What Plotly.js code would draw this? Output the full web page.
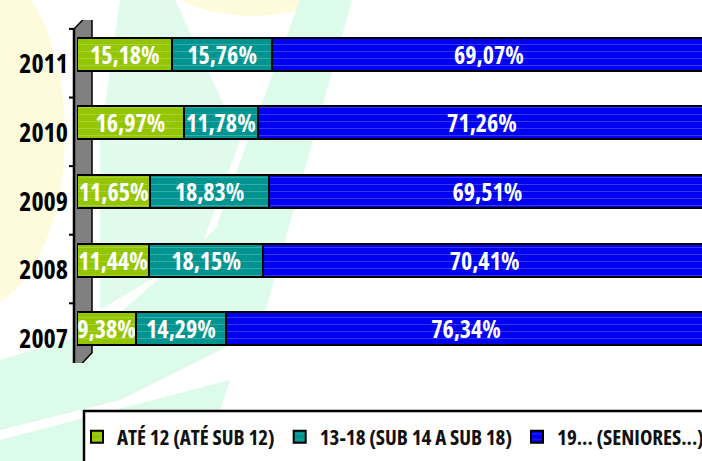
<!DOCTYPE html>
<html>
<head>
<meta charset="utf-8">
<script src="https://cdn.plot.ly/plotly-3.0.1.min.js"></script>
<style>
  html, body { margin: 0; padding: 0; background: #ffffff; overflow: hidden; }
  #chart { width: 800px; height: 461px; }
  text { font-stretch: 75% !important; }
</style>
</head>
<body>
<div id="chart"></div>
<script>
// ---- data ----
const years = ['2007', '2008', '2009', '2010', '2011'];
const ate12 = [9.38, 11.44, 11.65, 16.97, 15.18];
const sub14a18 = [14.29, 18.15, 18.83, 11.78, 15.76];
const seniores = [76.34, 70.41, 69.51, 71.26, 69.07];
const seriesNames = ['ATÉ 12 (ATÉ SUB 12)', '13-18 (SUB 14 A SUB 18)', '19... (SENIORES...)'];
const seriesColors = ['#93c600', '#009491', '#0000f2'];

// ---- layout constants ----
// the figure is wider than the 702px window so the bars run past the right edge, as in the reference
const W = 800, H = 461;
const M = { l: 77, r: 0, t: 20, b: 98 };
const PW = W - M.l - M.r, PH = H - M.t - M.b;
const FULL_PX = 629;                 // pixels spanned by 100 %
const FONT = '"Open Sans", "Liberation Sans", sans-serif';

function px2x(px) { return (px - M.l) / PW; }
function px2y(py) { return (H - M.b - py) / PH; }
function fmt(v) { return v.toFixed(2).replace('.', ',') + '%'; }

const allSeries = [ate12, sub14a18, seniores];
const traces = allSeries.map((vals, i) => ({
  type: 'bar',
  orientation: 'h',
  name: seriesNames[i],
  y: years,
  x: vals,
  text: vals.map(fmt),
  texttemplate: '%{text}',
  textposition: 'inside',
  insidetextanchor: 'middle',
  constraintext: 'none',
  cliponaxis: false,
  textfont: { family: FONT, size: 24, color: '#ffffff', weight: 'bold' },
  marker: {
    color: seriesColors[i],
    line: { color: '#000000', width: 2 },
    pattern: { shape: '-', bgcolor: seriesColors[i], fgcolor: '#ffffff', fgopacity: 0.25, size: 7, solidity: 0.12 }
  },
  hoverinfo: 'skip'
}));

// ---- decorative shapes ----
const shapes = [];
// watermark
shapes.push({ type: 'circle', xref: 'paper', yref: 'paper', layer: 'below',
  x0: px2x(-120), x1: px2x(65), y0: px2y(310), y1: px2y(-40),
  fillcolor: '#fdfbdc', line: { width: 0 } });
shapes.push({ type: 'circle', xref: 'paper', yref: 'paper', layer: 'below',
  x0: px2x(165), x1: px2x(340), y0: px2y(16), y1: px2y(-60),
  fillcolor: '#fdfbdc', line: { width: 0 } });
shapes.push({ type: 'path', xref: 'paper', yref: 'paper', layer: 'below',
  path: 'M ' + px2x(300) + ' ' + px2y(0) + ' L ' + px2x(352) + ' ' + px2y(0) +
        ' L ' + px2x(260) + ' ' + px2y(330) + ' L ' + px2x(120) + ' ' + px2y(400) +
        ' L ' + px2x(0) + ' ' + px2y(430) + ' L ' + px2x(0) + ' ' + px2y(360) +
        ' L ' + px2x(100) + ' ' + px2y(330) + ' L ' + px2x(215) + ' ' + px2y(230) + ' Z',
  fillcolor: '#dcfbea', line: { width: 0 } });
shapes.push({ type: 'path', xref: 'paper', yref: 'paper', layer: 'below',
  path: 'M ' + px2x(120) + ' ' + px2y(0) + ' L ' + px2x(175) + ' ' + px2y(0) +
        ' L ' + px2x(240) + ' ' + px2y(140) + ' L ' + px2x(200) + ' ' + px2y(250) +
        ' L ' + px2x(100) + ' ' + px2y(310) + ' L ' + px2x(100) + ' ' + px2y(140) + ' Z',
  fillcolor: '#e0fbeb', line: { width: 0 } });
shapes.push({ type: 'path', xref: 'paper', yref: 'paper', layer: 'below',
  path: 'M ' + px2x(0) + ' ' + px2y(440) + ' L ' + px2x(230) + ' ' + px2y(380) +
        ' L ' + px2x(200) + ' ' + px2y(470) + ' L ' + px2x(0) + ' ' + px2y(470) + ' Z',
  fillcolor: '#dcfbea', line: { width: 0 } });
// legend box
shapes.push({ type: 'rect', xref: 'paper', yref: 'paper', layer: 'below',
  x0: px2x(84), x1: px2x(790), y0: px2y(411), y1: px2y(480),
  fillcolor: '#ffffff', line: { color: '#000000', width: 2.5 } });
// 3D wall on the category axis
const off = 0.13;
const yTop = years.length - 0.5 - off, yBot = -0.5 - off;
shapes.push({ type: 'path', xref: 'paper', yref: 'y', layer: 'below',
  path: 'M ' + px2x(74) + ' ' + yTop + ' L ' + px2x(92) + ' ' + (yTop + 0.27) +
        ' L ' + px2x(92) + ' ' + (yBot + 0.28) + ' L ' + px2x(74) + ' ' + yBot + ' Z',
  fillcolor: '#808080', line: { color: '#000000', width: 1.5 } });
shapes.push({ type: 'line', xref: 'paper', yref: 'y', layer: 'below',
  x0: px2x(74), x1: px2x(74), y0: yBot, y1: yTop, line: { color: '#000000', width: 2.5 } });
for (let i = 0; i <= years.length; i++) {
  const yb = i - 0.5 - off;
  shapes.push({ type: 'line', xref: 'paper', yref: 'y', layer: 'below',
    x0: px2x(69), x1: px2x(74), y0: yb, y1: yb, line: { color: '#000000', width: 2 } });
}

const layout = {
  width: W, height: H,
  margin: M,
  barmode: 'stack',
  bargap: 0.52,
  paper_bgcolor: '#ffffff',
  plot_bgcolor: 'rgba(0,0,0,0)',
  font: { family: FONT, color: '#000000' },
  xaxis: {
    range: [0, 100 * PW / FULL_PX],
    showgrid: false, zeroline: false, showline: false,
    showticklabels: false, ticks: '', fixedrange: true
  },
  yaxis: {
    type: 'category',
    categoryorder: 'array', categoryarray: years,
    range: [-0.5, years.length - 0.5],
    showgrid: false, zeroline: false, showline: false, ticks: '',
    ticklabelshift: 10,
    ticklabelstandoff: 8,
    tickfont: { family: FONT, size: 26, color: '#000000', weight: 'bold' },
    fixedrange: true
  },
  showlegend: true,
  legend: {
    orientation: 'h',
    x: px2x(77), xanchor: 'left',
    y: px2y(437), yanchor: 'middle',
    bgcolor: 'rgba(0,0,0,0)',
    borderwidth: 0,
    traceorder: 'normal',
    font: { family: FONT, size: 21, color: '#111111', weight: 'bold' },
    itemclick: false, itemdoubleclick: false
  },
  shapes: shapes
};

Plotly.newPlot('chart', traces, layout, { displayModeBar: false, staticPlot: true });
</script>
</body>
</html>
